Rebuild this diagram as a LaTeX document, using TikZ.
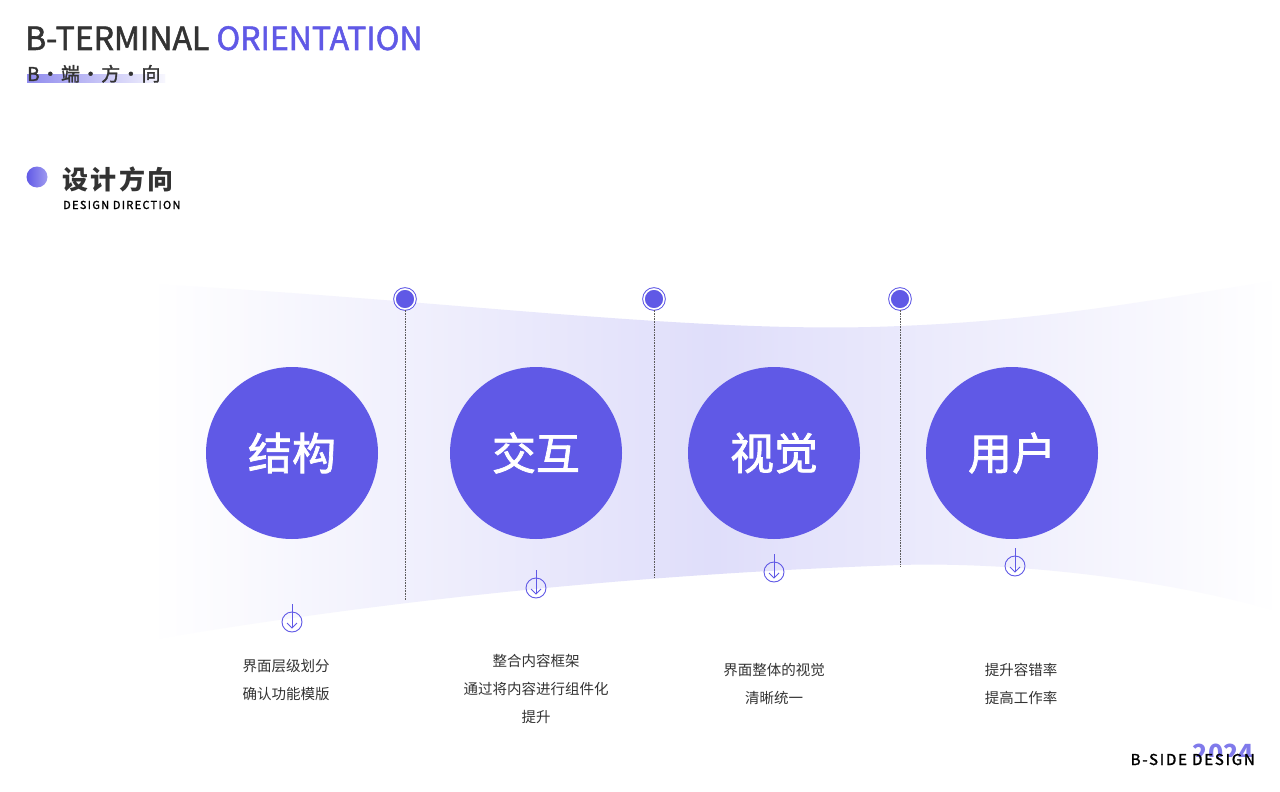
\documentclass[tikz,border=0pt]{standalone}
\usepackage{fontspec}
\setmainfont{Noto Sans CJK SC}
\newfontfamily\medfont[FakeBold=1.6]{Noto Sans CJK SC}
\usetikzlibrary{arrows.meta}
\definecolor{pur}{HTML}{6059E6}
\definecolor{dark}{HTML}{333333}
\begin{document}
\begin{tikzpicture}[x=1pt,y=-1pt,
  big/.style={circle,fill=pur,minimum size=172pt,inner sep=0pt,text=white,font=\fontsize{44}{44}\medfont},
  dot/.style={circle,draw=pur,fill=pur,double=white,double distance=1.6pt,line width=1pt,minimum size=20pt,inner sep=0pt},
  dotl/.style={densely dotted,draw=dark!80,line width=0.6pt},
  ico/.style={circle,draw=pur,line width=0.9pt,minimum size=20pt,inner sep=0pt},
  desc/.style={align=center,font=\fontsize{14.5}{28}\selectfont,text=dark}]
\useasboundingbox (0,0) rectangle (1280,792);
\fill[white] (0,0) rectangle (1280,792);
% band
\shade[left color=white,right color=white,middle color=pur!20]
 (150,284) .. controls (450,300) and (700,335) .. (900,326) .. controls (1050,320) and (1150,300) .. (1280,280)
 -- (1280,612) .. controls (1150,575) and (1000,562) .. (900,565) .. controls (700,572) and (450,590) .. (150,640) -- cycle;
% header
\node[anchor=base west,inner sep=0pt,font=\fontsize{32}{32}\medfont] (title) at (25,50) {\textcolor{dark}{B-TERMINAL} \textcolor{pur}{ORIENTATION}};
\shade[left color=pur!70,right color=pur!5] (27,75) rectangle (165,83);
\node[anchor=base west,inner sep=0pt,font=\fontsize{19}{19}\medfont\addfontfeatures{LetterSpace=6},text=dark] (sub) at (27,81) {B·端·方·向};
\shade[left color=pur, right color=pur!60] (37,177) circle (10.5);
\node[anchor=base west,inner sep=0pt,font=\fontsize{26}{26}\selectfont\bfseries\addfontfeatures{LetterSpace=10},text=dark] (sec) at (62,189) {设计方向};
\node[anchor=base west,inner sep=0pt,font=\fontsize{11}{11}\medfont\addfontfeatures{LetterSpace=12},text=black] (secen) at (63,209) {DESIGN DIRECTION};
% dots & lines
\node[dot] (d1) at (405,299) {};
\node[dot] (d2) at (654,299) {};
\node[dot] (d3) at (900,299) {};
\coordinate (e1) at (405,600);
\coordinate (e2) at (654,577);
\coordinate (e3) at (900,566);
\draw[dotl] (d1) -- (e1);
\draw[dotl] (d2) -- (e2);
\draw[dotl] (d3) -- (e3);
% circles
\node[big] (c1) at (292,453) {结构};
\node[big] (c2) at (536,453) {交互};
\node[big] (c3) at (774,453) {视觉};
\node[big] (c4) at (1012,453) {用户};
% icons
\foreach \n/\x/\y in {1/292/622,2/536/588,3/774/572,4/1015/566}{
  \node[ico] (i\n) at (\x,\y) {};
  \coordinate (t\n) at (\x,\y-18);
  \coordinate (b\n) at (\x,\y+6);
  \draw[pur,line width=0.9pt] (t\n) -- (b\n);
  \draw[pur,line width=0.9pt] (\x-5,\y+1) -- (b\n) -- (\x+5,\y+1);
}
% texts
\node[desc] (x1) at (286,680) {界面层级划分\\确认功能模版};
\node[desc] (x2) at (536,689) {整合内容框架\\通过将内容进行组件化\\提升};
\node[desc] (x3) at (774,684) {界面整体的视觉\\清晰统一};
\node[desc] (x4) at (1021,684) {提升容错率\\提高工作率};
% footer
\begin{scope}
\clip (1180,735) rectangle (1260,756);
\node[anchor=base east,inner sep=0pt,font=\fontsize{25}{25}\selectfont\bfseries,text=pur!80] (yr) at (1254,762) {2024};
\end{scope}
\node[anchor=base east,inner sep=0pt,font=\fontsize{15}{15}\medfont\addfontfeatures{LetterSpace=12},text=black] (bs) at (1255,765) {B-SIDE DESIGN};
\end{tikzpicture}
\end{document}
